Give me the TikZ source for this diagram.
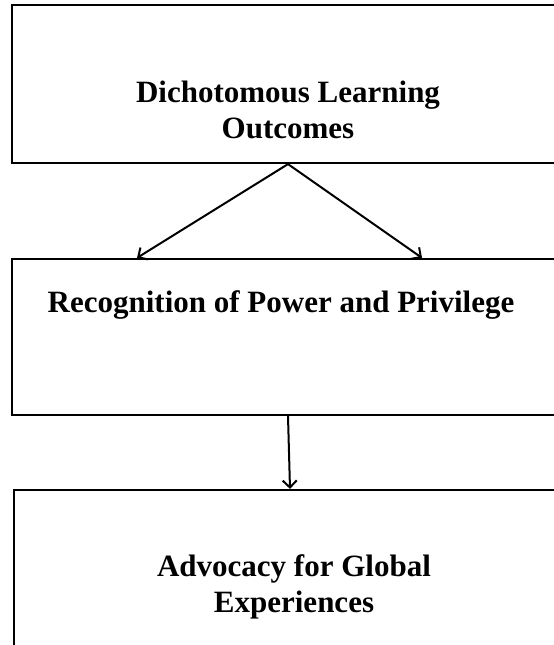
\documentclass[tikz,border=0pt]{standalone}
\usepackage{fontspec}
\setmainfont{Liberation Serif}
\usetikzlibrary{arrows.meta}

\begin{document}
\begin{tikzpicture}[x=1pt,y=-1pt,
  box/.style={draw,line width=2.2pt,minimum width=552pt,minimum height=158pt,inner sep=0pt},
  txt/.style={align=center,font=\bfseries\fontsize{31}{36}\selectfont},
  arr/.style={line width=2pt,-{Straight Barb[length=7pt,width=14pt]}}]
\useasboundingbox (0,0) rectangle (554,645);
\clip (0,0) rectangle (554,645);

% boxes run off the right and bottom edge
\node[box] (dlo) at (288,84) {};
\node[box,minimum height=156pt] (rpp) at (288,337) {};
\node[box] (agx) at (290,569) {};

\node[txt] (dlo-t) at (288,110) {Dichotomous Learning\\Outcomes};
\node[txt] (rpp-t) at (281,305) {Recognition of Power and Privilege};
\node[txt] (agx-t) at (294,587) {Advocacy for Global\\Experiences};

\draw[arr] (dlo.south) -- ([xshift=-151pt]rpp.north);
\draw[arr] (dlo.south) -- ([xshift=134pt]rpp.north);
\draw[arr] (rpp.south) -- (agx.north);

\end{tikzpicture}
\end{document}
